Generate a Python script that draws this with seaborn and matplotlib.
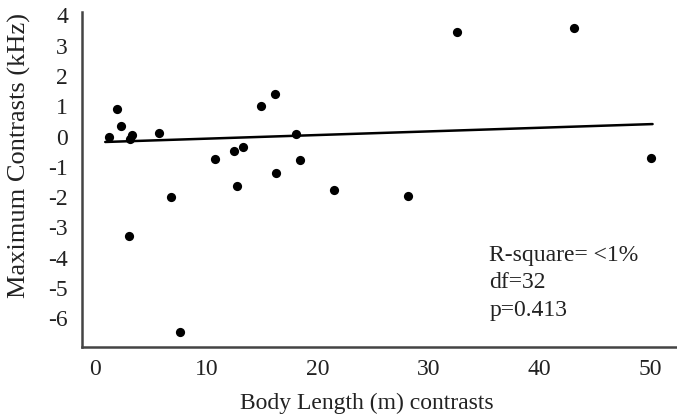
import matplotlib
matplotlib.use("Agg")
import matplotlib.pyplot as plt
import seaborn as sns
import numpy as np
import pandas as pd

# values
body_length = [1.2, 2.0, 2.3, 3.1, 3.35, 5.7, 6.85, 3.0, 7.65, 10.8, 12.5, 13.3,
               12.8, 14.95, 16.2, 16.3, 18.1, 18.4, 21.5, 28.2, 32.6, 43.1, 50.1]
max_contrast = [-0.02, 0.91, 0.35, -0.08, 0.05, 0.12, -2.0, -3.28, -6.45, -0.73, -0.48, -0.33,
                -1.63, 1.0, 1.4, -1.2, 0.08, -0.78, -1.78, -1.95, 3.45, 3.6, -0.71]

# trend line as drawn in the reference
trend_intercept = -0.19
trend_slope = 0.012

y_ticks = [4, 3, 2, 1, 0, -1, -2, -3, -4, -5, -6]
x_ticks = [0, 10, 20, 30, 40, 50]
stats_text = "R-square= <1%\ndf=32\np=0.413"

df = pd.DataFrame({"x": body_length, "y": max_contrast})
trend_x = np.array([min(body_length) - 0.3, max(body_length) + 0.1])
trend = pd.DataFrame({"x": trend_x, "y": trend_intercept + trend_slope * trend_x})

sns.set_style("white")
plt.rcParams["font.family"] = ["Liberation Serif", "DejaVu Serif"]
plt.rcParams["axes.unicode_minus"] = False

fig = plt.figure(figsize=(6.77, 4.19), dpi=100)
ax = fig.add_axes([0.121, 0.172, 0.879, 0.799])

sns.scatterplot(data=df, x="x", y="y", color="black", s=44, edgecolor="black",
                linewidth=0, ax=ax, zorder=3)
sns.lineplot(data=trend, x="x", y="y", color="black", linewidth=1.8, ax=ax, zorder=2)

ax.set_xlim(-1.2, 52.4)
ax.set_ylim(-6.95, 4.11)
ax.set_xticks(x_ticks)
ax.set_yticks(y_ticks)
ax.tick_params(axis="both", length=0, labelsize=17, colors="#222222")
ax.tick_params(axis="x", pad=9)
ax.tick_params(axis="y", pad=10)

for side in ["top", "right"]:
    ax.spines[side].set_visible(False)
for side in ["left", "bottom"]:
    ax.spines[side].set_color("#444444")
    ax.spines[side].set_linewidth(1.8)

ax.set_xlabel("Body Length (m) contrasts", fontsize=17, color="#222222")
ax.set_ylabel("Maximum Contrasts (kHz)", fontsize=19, color="#222222")
ax.xaxis.set_label_coords(0.479, -0.137)
ax.yaxis.set_label_coords(-0.085, 0.573)

ax.text(35.5, -3.58, stats_text, fontsize=17, color="#222222", va="top", ha="left",
        linespacing=1.4)

fig.savefig("out.png", dpi=100)
